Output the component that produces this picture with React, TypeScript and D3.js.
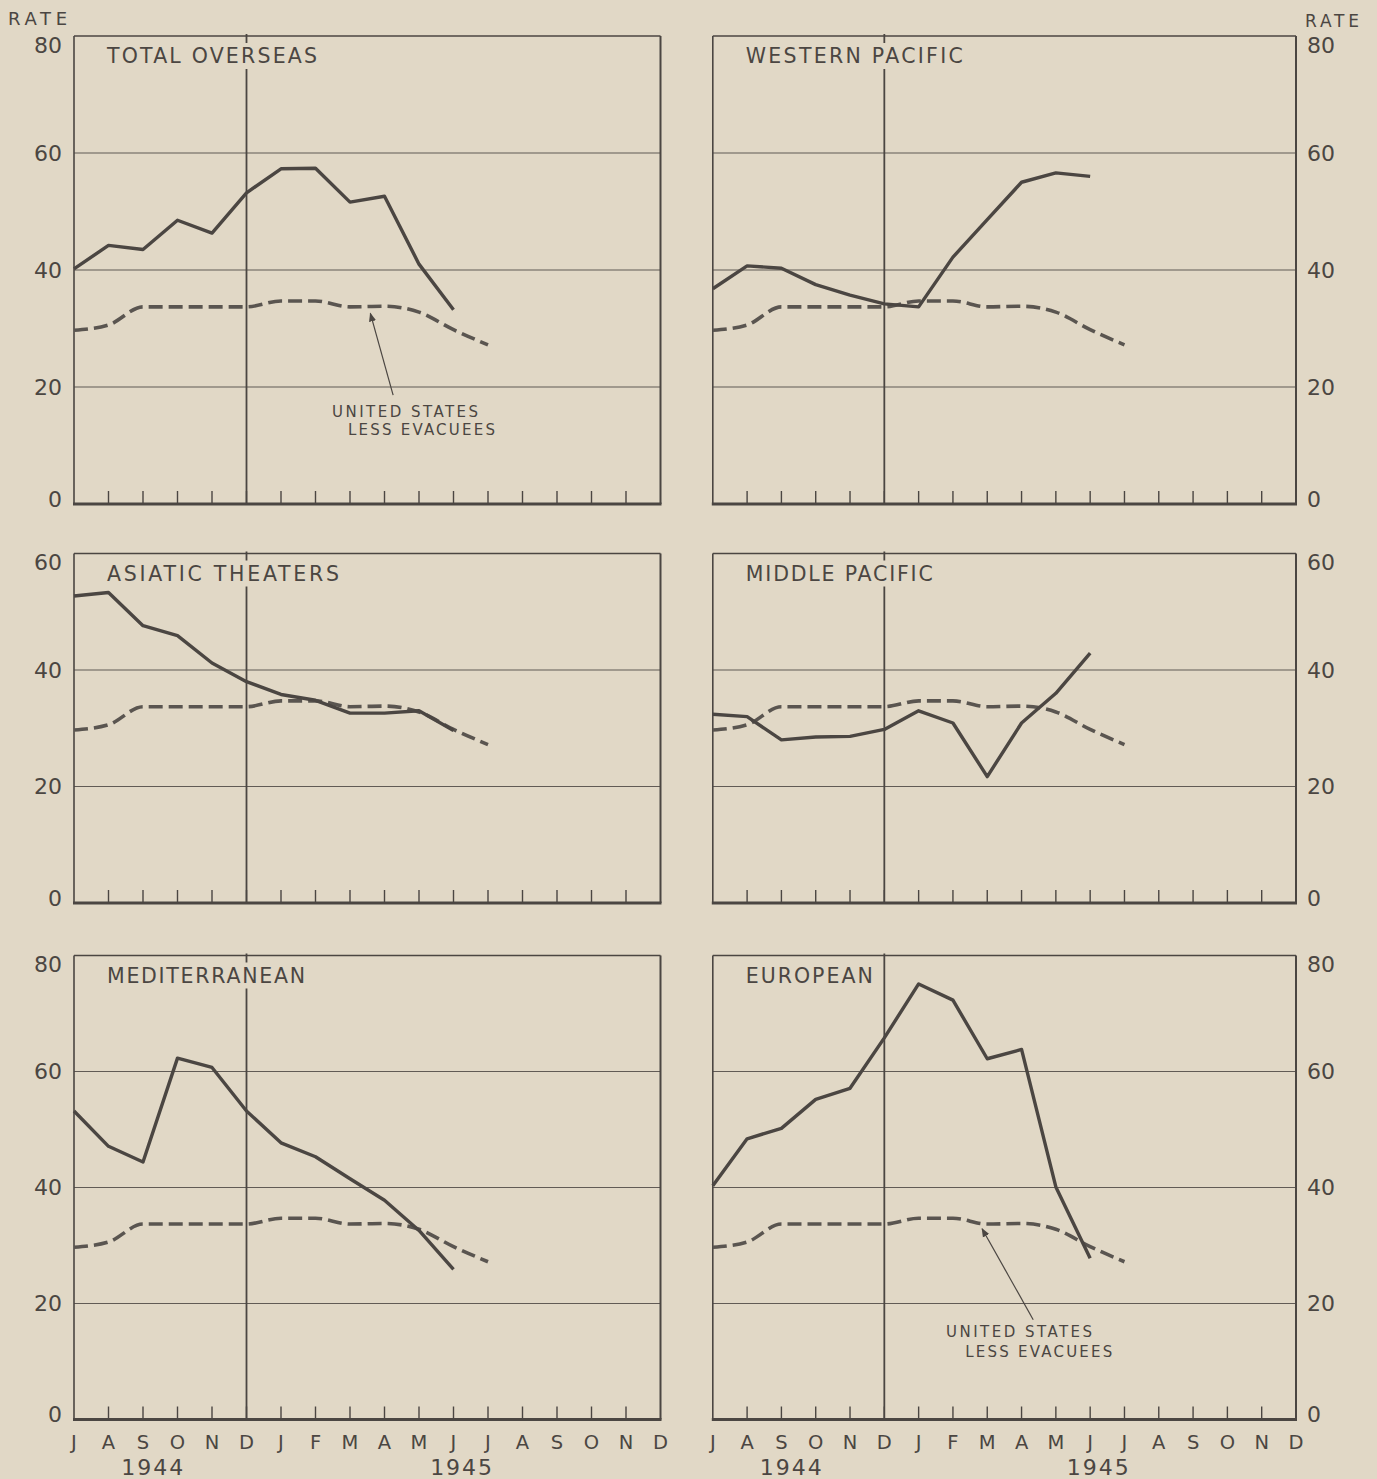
import React from 'react';
import * as d3 from 'd3';

// month axis, July 1944 through December 1945
const months = ['J', 'A', 'S', 'O', 'N', 'D', 'J', 'F', 'M', 'A', 'M', 'J', 'J', 'A', 'S', 'O', 'N', 'D'];
const years = ['1944', '1945'];

// rate per 1000 (J 1944 .. J 1945)
const usLessEvacuees = [29.7, 30.6, 33.7, 33.7, 33.7, 33.7, 34.7, 34.7, 33.7, 33.8, 32.8, 29.8, 27.2];
const totalOverseas = [40.2, 44.2, 43.5, 48.5, 46.3, 53.2, 57.3, 57.4, 51.6, 52.6, 41.0, 33.2];
const westernPacific = [36.8, 40.7, 40.3, 37.5, 35.7, 34.2, 33.7, 42.2, 48.6, 55.0, 56.6, 56.0];
const asiaticTheaters = [52.7, 53.3, 47.6, 45.9, 41.2, 38.0, 35.8, 34.8, 32.6, 32.6, 33.0, 29.6];
const middlePacific = [32.4, 32.0, 28.0, 28.5, 28.6, 29.8, 33.0, 30.9, 21.7, 30.9, 36.0, 42.9];
const mediterranean = [53.2, 47.1, 44.4, 62.3, 60.7, 53.2, 47.7, 45.3, 41.5, 37.8, 32.6, 25.9];
const european = [40.3, 48.4, 50.2, 55.2, 57.1, 65.8, 75.1, 72.3, 62.2, 63.8, 40.1, 27.8];

const titles = ['TOTAL OVERSEAS', 'WESTERN PACIFIC', 'ASIATIC THEATERS', 'MIDDLE PACIFIC', 'MEDITERRANEAN', 'EUROPEAN'];
const rowMax = [80, 60, 80];
const noteLines = ['UNITED STATES', 'LESS EVACUEES'];

const W = 1377;
const H = 1479;
const BG = '#e1d8c6';
const INK = '#4b4642';
const FONT = '"DejaVu Sans", "Open Sans", sans-serif';

const COLS = [
  [74, 660.5],
  [712.8, 1296],
];
const ROWS = [
  [36, 504],
  [553.5, 903],
  [955.5, 1419.5],
];

const panels = [
  { title: titles[0], data: totalOverseas, row: 0, col: 0, titleW: 210, note: { text: [7.48, 15.8], text2: [7.94, 12.7], tail: [9.25, 18.6], tip: [8.59, 32.6] } },
  { title: titles[1], data: westernPacific, row: 0, col: 1, titleW: 217 },
  { title: titles[2], data: asiaticTheaters, row: 1, col: 0, titleW: 232 },
  { title: titles[3], data: middlePacific, row: 1, col: 1, titleW: 187 },
  { title: titles[4], data: mediterranean, row: 2, col: 0, titleW: 198 },
  { title: titles[5], data: european, row: 2, col: 1, titleW: 127, note: { text: [6.8, 15.1], text2: [7.36, 11.7], tail: [9.34, 17.2], tip: [7.85, 32.9] } },
];

const Panel = ({ p }) => {
  const [x0, x1] = COLS[p.col];
  const [yTop, yBot] = ROWS[p.row];
  const max = rowMax[p.row];
  const x = d3.scaleLinear().domain([0, months.length - 1]).range([x0, x1]);
  const y = d3.scaleLinear().domain([0, max]).range([yBot, yTop]);
  const solid = d3
    .line<number>()
    .x((_, i) => x(i))
    .y((d) => y(d));
  const dashed = d3
    .line<number>()
    .x((_, i) => x(i))
    .y((d) => y(d))
    .curve(d3.curveMonotoneX);
  const ticks = d3.range(0, max + 1, 20);
  const right = p.col === 1;
  const titleX = x(0) + 33;
  const titleY = yTop + 20;

  return (
    <g>
      {/* grid lines */}
      {ticks
        .filter((t) => t > 0 && t < max)
        .map((t) => (
          <line key={t} x1={x0} x2={x1} y1={y(t)} y2={y(t)} stroke={INK} strokeWidth={1.2} opacity={0.85} />
        ))}
      {/* frame */}
      <line x1={x0} x2={x1} y1={yTop} y2={yTop} stroke={INK} strokeWidth={1.3} />
      <line x1={x0} x2={x0} y1={yTop} y2={yBot} stroke={INK} strokeWidth={1.6} />
      <line x1={x1} x2={x1} y1={yTop} y2={yBot} stroke={INK} strokeWidth={2} />
      {/* december divider */}
      <line x1={x(5)} x2={x(5)} y1={yTop - 2} y2={yBot} stroke={INK} strokeWidth={1.8} />
      {/* month ticks */}
      {months.slice(1, -1).map((m, i) => (
        <line key={i} x1={x(i + 1)} x2={x(i + 1)} y1={yBot} y2={yBot - 13} stroke={INK} strokeWidth={1.4} />
      ))}
      <line x1={x0 - 1} x2={x1 + 1} y1={yBot} y2={yBot} stroke={INK} strokeWidth={3.2} />

      {/* title with paper behind it */}
      <rect x={titleX - 4} y={titleY - 13} width={p.titleW + 8} height={26} fill={BG} />
      <text
        x={titleX}
        y={titleY}
        dominantBaseline="central"
        fontSize={20.5}
        textLength={p.titleW}
        lengthAdjust="spacing"
        fill={INK}
        fontFamily={FONT}
      >
        {p.title}
      </text>

      {/* series */}
      <path d={dashed(usLessEvacuees)} fill="none" stroke="#5a5550" strokeWidth={3.6} strokeDasharray="14 6" />
      <path d={solid(p.data)} fill="none" stroke={INK} strokeWidth={3.4} strokeLinejoin="round" />

      {/* y tick labels */}
      {ticks.map((t) => {
        const dy = t === max ? 9 : t === 0 ? -5 : 0;
        return (
          <text
            key={t}
            x={right ? x1 + 11 : x0 - 12}
            y={y(t) + dy}
            textAnchor={right ? 'start' : 'end'}
            dominantBaseline="central"
            fontSize={22}
            fill={INK}
            fontFamily={FONT}
          >
            {t}
          </text>
        );
      })}

      {/* annotation */}
      {p.note && (
        <g fill={INK} fontFamily={FONT} fontSize={15}>
          <text x={x(p.note.text[0])} y={y(p.note.text[1])} dominantBaseline="central" textLength={146} lengthAdjust="spacing">
            {noteLines[0]}
          </text>
          <text x={x(p.note.text2[0])} y={y(p.note.text2[1])} dominantBaseline="central" textLength={147} lengthAdjust="spacing">
            {noteLines[1]}
          </text>
          <line
            x1={x(p.note.tail[0])}
            y1={y(p.note.tail[1])}
            x2={x(p.note.tip[0])}
            y2={y(p.note.tip[1])}
            stroke={INK}
            strokeWidth={1.2}
            markerEnd="url(#arrow)"
          />
        </g>
      )}

      {/* month labels on bottom row */}
      {p.row === 2 && (
        <g fill={INK} fontFamily={FONT}>
          {months.map((m, i) => (
            <text key={i} x={x(i)} y={yBot + 23} textAnchor="middle" dominantBaseline="central" fontSize={19.5}>
              {m}
            </text>
          ))}
          <text x={x(2.3)} y={yBot + 48} textAnchor="middle" dominantBaseline="central" fontSize={22} letterSpacing={2}>
            {years[0]}
          </text>
          <text x={x(11.25)} y={yBot + 48} textAnchor="middle" dominantBaseline="central" fontSize={22} letterSpacing={2}>
            {years[1]}
          </text>
        </g>
      )}
    </g>
  );
};

const App = () => {
  return (
    <div style={{ position: 'absolute', top: 0, left: 0 }}>
      <svg width={W} height={H} style={{ display: 'block' }}>
        <defs>
          <marker id="arrow" viewBox="0 0 10 10" refX={9} refY={5} markerWidth={9} markerHeight={9} orient="auto" markerUnits="userSpaceOnUse">
            <path d="M0,1 L10,5 L0,9 z" fill={INK} />
          </marker>
        </defs>
        <rect width={W} height={H} fill={BG} />
        <text x={8} y={18} dominantBaseline="central" fontSize={18} textLength={59} lengthAdjust="spacing" fill={INK} fontFamily={FONT}>
          RATE
        </text>
        <text x={1305} y={21} dominantBaseline="central" fontSize={17} textLength={54} lengthAdjust="spacing" fill={INK} fontFamily={FONT}>
          RATE
        </text>
        {panels.map((p) => (
          <Panel key={p.title} p={p} />
        ))}
      </svg>
    </div>
  );
};

export default App;
